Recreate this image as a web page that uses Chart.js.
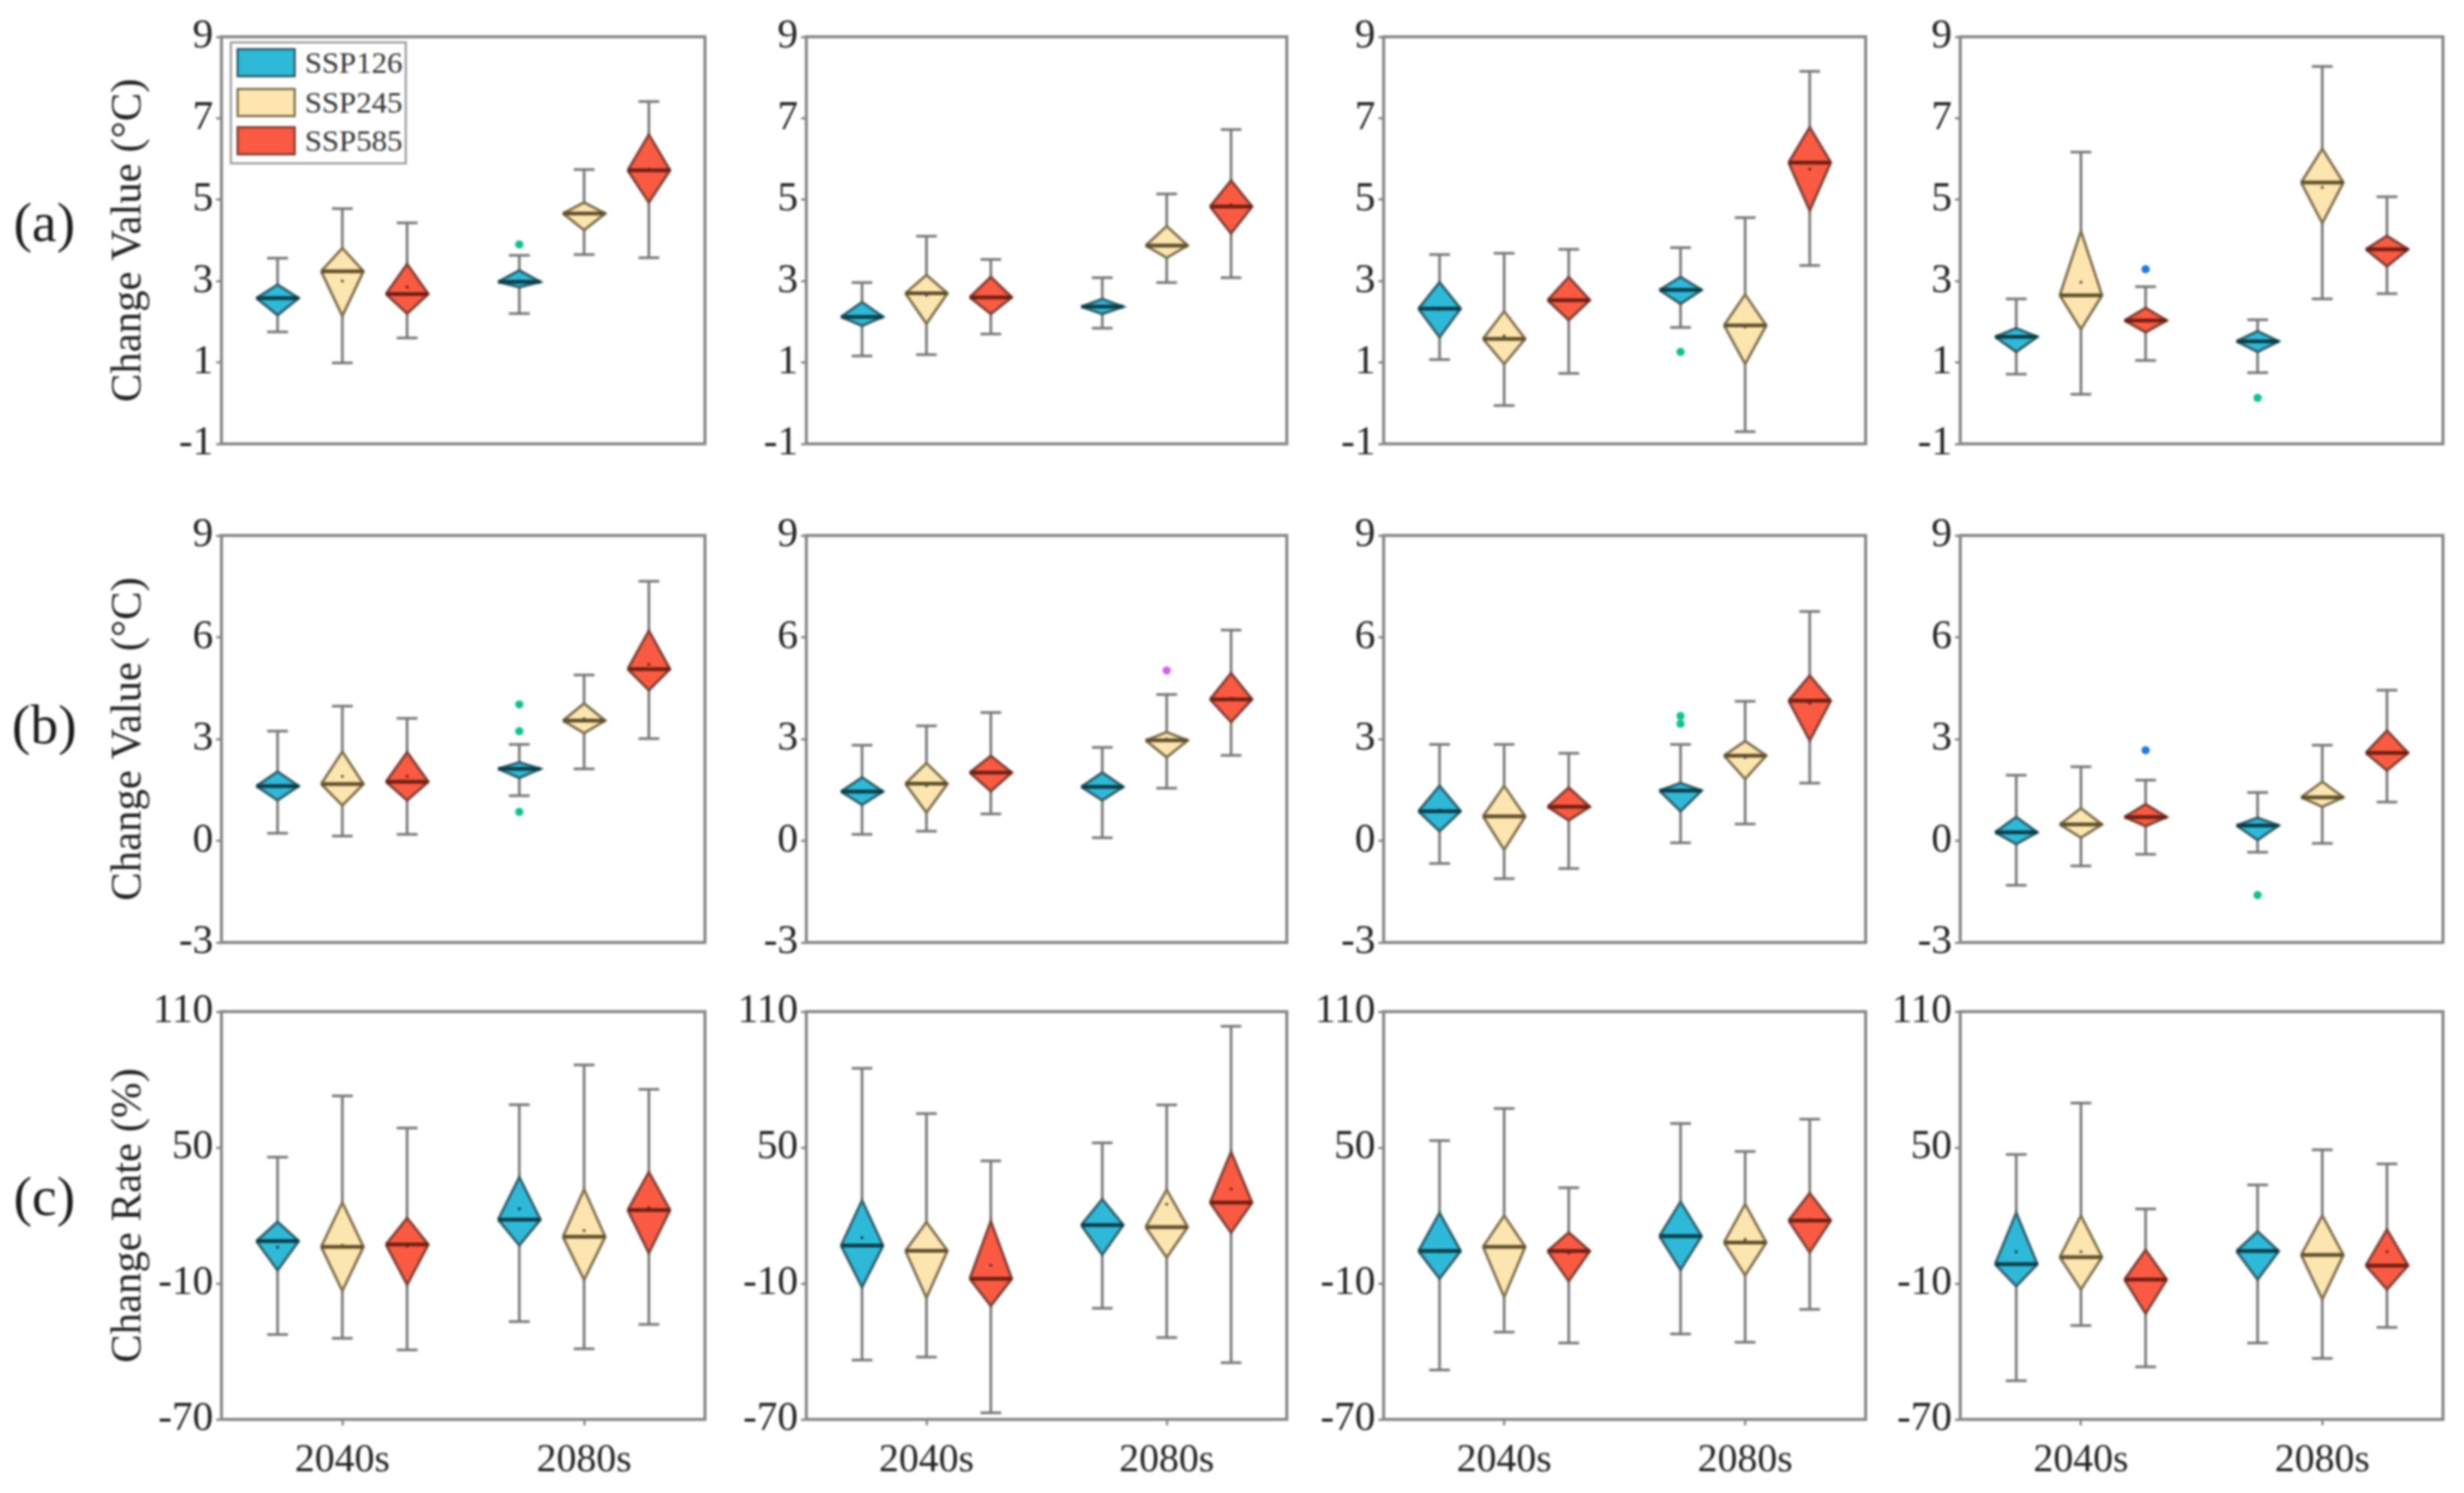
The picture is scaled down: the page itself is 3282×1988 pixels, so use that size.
<!DOCTYPE html>
<html><head><meta charset="utf-8">
<script src="https://cdn.jsdelivr.net/npm/chart.js@4/dist/chart.umd.min.js"></script>
<style>
html,body{margin:0;padding:0;background:#fff;width:3282px;height:1988px;overflow:hidden}
#page{position:absolute;left:0;top:0;width:3282px;height:1988px;filter:blur(1.4px);font-family:"Liberation Serif",serif;color:#222}
canvas{position:absolute}
.tag{position:absolute;font-size:74px;line-height:74px;transform:translate(-50%,-50%);color:#1a1a1a}
#legend{position:absolute;left:306px;top:55px;width:236px;height:164px;box-sizing:border-box;border:3px solid #a0a0a0;background:#fff;z-index:5}
#legend .sw{position:absolute;left:6px;width:79px;height:39px;box-sizing:border-box;border:3px solid}
#legend .tx{position:absolute;left:97px;font-size:41px;line-height:41px;color:#333}
</style></head><body><div id="page"></div>
<script>
const categories=['2040s','2080s'];
const seriesNames=['SSP126','SSP245','SSP585'];
const yTicksA=[-1,1,3,5,7,9], yTicksB=[-3,0,3,6,9], yTicksC=[-70,-10,50,110];
const panelTags=['(a)','(b)','(c)'];
const yTitles=['Change Value (°C)','Change Value (°C)','Change Rate (%)'];

const lowA1=[1.75,0.99,1.6,2.2,3.65,3.57], q1A1=[2.16,2.14,2.2,2.85,4.25,4.93], medA1=[2.58,3.24,2.68,2.98,4.66,5.72], q3A1=[2.91,3.81,3.42,3.26,4.93,6.6], highA1=[3.56,4.78,4.43,3.63,5.74,7.41], meanA1=[2.6,3.0,2.85,3.0,4.65,5.75];
const lowA2=[1.16,1.19,1.7,1.84,2.96,3.08], q1A2=[1.9,1.95,2.19,2.19,3.57,4.17], medA2=[2.12,2.7,2.6,2.37,3.87,4.83], q3A2=[2.48,3.15,3.1,2.56,4.35,5.47], highA2=[2.96,4.1,3.53,3.08,5.14,6.72], meanA2=[2.12,2.65,2.6,2.37,3.87,4.87];
const lowA3=[1.07,-0.06,0.73,1.86,-0.7,3.38], q1A3=[1.62,0.96,2.04,2.44,0.96,4.73], medA3=[2.32,1.58,2.53,2.78,1.91,5.91], q3A3=[2.97,2.26,3.1,3.1,2.67,6.78], highA3=[3.65,3.68,3.78,3.82,4.56,8.15], meanA3=[2.3,1.65,2.53,2.78,1.87,5.75];
const lowA4=[0.71,0.22,1.05,0.75,2.56,2.69], q1A4=[1.26,1.81,1.74,1.26,4.42,3.36], medA4=[1.63,2.65,2.03,1.52,5.42,3.78], q3A4=[1.84,4.23,2.34,1.77,6.25,4.11], highA4=[2.56,6.17,2.86,2.05,8.27,5.07], meanA4=[1.63,2.97,2.03,1.52,5.3,3.78];
const lowB1=[0.22,0.14,0.19,1.33,2.12,3.01], q1B1=[1.19,1.04,1.19,1.85,3.17,4.44], medB1=[1.61,1.67,1.74,2.12,3.54,5.06], q3B1=[2.04,2.63,2.61,2.31,4.05,6.19], highB1=[3.23,3.97,3.61,2.84,4.89,7.65], meanB1=[1.61,1.9,1.9,2.12,3.6,5.2];
const lowB2=[0.19,0.28,0.79,0.09,1.55,2.52], q1B2=[1.06,0.83,1.46,1.19,2.46,3.5], medB2=[1.45,1.68,2.01,1.59,2.96,4.17], q3B2=[1.87,2.29,2.5,2.01,3.2,4.94], highB2=[2.82,3.39,3.78,2.75,4.31,6.21], meanB2=[1.45,1.62,2.0,1.59,3.0,4.2];
const lowB3=[-0.67,-1.12,-0.82,-0.06,0.49,1.7], q1B3=[0.28,-0.27,0.6,0.87,1.82,2.95], medB3=[0.87,0.72,1.0,1.48,2.51,4.13], q3B3=[1.62,1.62,1.57,1.7,2.94,4.87], highB3=[2.84,2.84,2.58,2.84,4.11,6.76], meanB3=[0.9,0.72,1.0,1.5,2.45,4.05];
const lowB4=[-1.31,-0.74,-0.4,-0.34,-0.08,1.14], q1B4=[-0.1,0.09,0.43,0.02,1.0,2.07], medB4=[0.25,0.48,0.7,0.45,1.28,2.59], q3B4=[0.7,0.96,1.08,0.68,1.74,3.25], highB4=[1.93,2.18,1.79,1.42,2.82,4.44], meanB4=[0.25,0.48,0.7,0.45,1.28,2.59];
const lowC1=[-32.5,-34.2,-39.3,-26.8,-38.8,-28.1], q1C1=[-4.2,-13.3,-10.6,6.8,-8.4,3.4], medC1=[8.7,6.2,7.2,18.2,10.6,22.4], q3C1=[17.2,25.8,18.9,36.9,31.6,39.2], highC1=[45.8,72.8,58.6,68.9,86.5,75.7], meanC1=[6,6.8,6.5,23,13.4,23.5];
const lowC2=[-43.8,-42.5,-67.1,-20.9,-33.9,-45], q1C2=[-11.7,-16.4,-19.9,2.6,1.4,12.4], medC2=[6.7,4.4,-7.9,15.8,14.9,25.7], q3C2=[26.7,17.1,17.5,27.2,31.4,48.1], highC2=[85,65,44.1,52.1,68.8,103.5], meanC2=[10.2,4.4,-2,15.8,25,31.7];
const lowC3=[-48.2,-31.5,-36.3,-32.3,-35.9,-21.4], q1C3=[-7.9,-16,-9,-4,-6.4,3.7], medC3=[4.3,6.2,4.3,10.9,8.1,17.8], q3C3=[21.2,20,12.5,26.1,25.1,29.9], highC3=[53.1,67.2,32.3,60.6,48.3,62.5], meanC3=[4,5.9,3.5,10.9,9.5,18.2];
const lowC4=[-52.9,-28.6,-46.8,-36.3,-43.1,-29.4], q1C4=[-11.2,-12.7,-23.3,-8.3,-17,-12.7], medC4=[-1.5,1.6,-8.3,4.3,2.6,-2.1], q3C4=[21.2,20,4.8,13,20,13.8], highC4=[46.9,69.6,22.9,33.5,49,42.8], meanC4=[4,4,-8.3,4.3,2.6,4];

/* outliers: [box index, value] */
const outA1=[[3,3.9]], outA2=[], outA3=[[3,1.26]], outA4=[[2,3.29],[3,0.13]];
const outB1=[[3,4.02],[3,3.23],[3,0.85]], outB2=[[4,5.02]], outB3=[[3,3.68],[3,3.45]], outB4=[[2,2.67],[3,-1.6]];

const colLefts=[295,1074,1843,2611], colRights=[939,1714,2485,3254];
const rowTops=[49,713,1347], rowBottoms=[591,1255,1890];
const fills=['#2fb9d8','#fde5b0','#fb5a42'];
const edges=['#2f5f6c','#7f6f4e','#7f3f35'];
const medians=['#0a3c48','#5e4e2a','#6e1e14'];
const outlierColors=['#10c090','#10c090','#1a78e6','#10c090','#d060f0','#10c090'];
const FRAME='#858585', WHISK='#777777';
const GROUP_OFFSET=0.268, HALF_W=0.0875, CAP_W=0.043;
const ML=295, MT=45, MR=20, MB=98;

function boxX(i){return (i<3?1:2)+((i%3)-1)*GROUP_OFFSET;}

function boxDatasets(low,q1,med,q3,high,mean,out){
  const ds=[];
  for(let i=0;i<6;i++){
    const x=boxX(i), s=i%3;
    ds.push({label:seriesNames[s]+' whisker',order:3,showLine:true,pointRadius:0,borderColor:WHISK,borderWidth:3.5,spanGaps:false,
      data:[{x:x-CAP_W,y:high[i]},{x:x+CAP_W,y:high[i]},{x:x,y:null},{x:x,y:high[i]},{x:x,y:q3[i]},{x:x,y:null},{x:x,y:q1[i]},{x:x,y:low[i]},{x:x,y:null},{x:x-CAP_W,y:low[i]},{x:x+CAP_W,y:low[i]}]});
    ds.push({label:seriesNames[s],order:2,showLine:true,pointRadius:0,borderColor:edges[s],borderWidth:3.5,backgroundColor:fills[s],fill:'shape',tension:0,
      data:[{x:x-HALF_W,y:med[i]},{x:x,y:q3[i]},{x:x+HALF_W,y:med[i]},{x:x,y:q1[i]},{x:x-HALF_W,y:med[i]}]});
    ds.push({label:seriesNames[s]+' median',order:1,showLine:true,pointRadius:0,borderColor:medians[s],borderWidth:5,
      data:[{x:x-HALF_W,y:med[i]},{x:x+HALF_W,y:med[i]}]});
    ds.push({label:seriesNames[s]+' mean',order:0,showLine:false,pointRadius:2,pointBackgroundColor:medians[s],pointBorderWidth:0,
      data:[{x:x,y:mean[i]}]});
  }
  out.forEach(o=>ds.push({label:'outlier',order:0,showLine:false,pointRadius:5.5,pointBackgroundColor:outlierColors[o[0]],pointBorderWidth:0,
      data:[{x:boxX(o[0]),y:o[1]}]}));
  return ds;
}

const framePlugin={id:'frame',afterDatasetsDraw(c){const a=c.chartArea,x=c.ctx;x.save();x.strokeStyle=FRAME;x.lineWidth=4;
  x.beginPath();x.moveTo(a.left,a.top);x.lineTo(a.right,a.top);x.lineTo(a.right,a.bottom);x.stroke();x.restore();}};

const page=document.getElementById('page');
function makePanel(r,c,ticks,sets){
  const L=colLefts[c]-ML,T=rowTops[r]-MT,W=colRights[c]-colLefts[c]+ML+MR,H=rowBottoms[r]-rowTops[r]+MT+MB;
  const cv=document.createElement('canvas');cv.width=W;cv.height=H;cv.style.left=L+'px';cv.style.top=T+'px';cv.style.width=W+'px';cv.style.height=H+'px';
  page.appendChild(cv);
  const last=r===2;
  new Chart(cv,{type:'scatter',plugins:[framePlugin],data:{datasets:sets},options:{
    responsive:false,animation:false,devicePixelRatio:1,maintainAspectRatio:false,
    layout:{padding:{left:0,top:MT,right:MR,bottom:0}},
    plugins:{legend:{display:false},tooltip:{enabled:false}},
    scales:{
      x:{type:'linear',min:0.5,max:2.5,afterBuildTicks:a=>{a.ticks=categories.map((_,i)=>({value:i+1}));},
        afterFit:s=>{s.height=MB;},
        border:{color:FRAME,width:4},
        grid:{display:last,drawOnChartArea:false,drawTicks:last,tickLength:8,color:FRAME,lineWidth:3},
        ticks:{display:last,autoSkip:false,maxRotation:0,minRotation:0,padding:15,color:'#222',font:{family:'"Liberation Serif"',size:53},callback:v=>categories[v-1]}},
      y:{type:'linear',min:ticks[0],max:ticks[ticks.length-1],afterBuildTicks:a=>{a.ticks=ticks.map(v=>({value:v}));},
        afterFit:s=>{s.width=ML;},
        border:{color:FRAME,width:4},
        grid:{drawOnChartArea:false,drawTicks:true,tickLength:7,color:FRAME,lineWidth:3},
        ticks:{autoSkip:false,padding:4,color:'#222',font:{family:'"Liberation Serif"',size:55},callback:v=>String(v)},
        title:{display:c===0,text:yTitles[r],color:'#222',font:{family:'"Liberation Serif"',size:57},padding:{top:138,bottom:0}}}
    }}});
}

const rows=[yTicksA,yTicksB,yTicksC];
const P=[
 [[lowA1,q1A1,medA1,q3A1,highA1,meanA1,outA1],[lowA2,q1A2,medA2,q3A2,highA2,meanA2,outA2],[lowA3,q1A3,medA3,q3A3,highA3,meanA3,outA3],[lowA4,q1A4,medA4,q3A4,highA4,meanA4,outA4]],
 [[lowB1,q1B1,medB1,q3B1,highB1,meanB1,outB1],[lowB2,q1B2,medB2,q3B2,highB2,meanB2,outB2],[lowB3,q1B3,medB3,q3B3,highB3,meanB3,outB3],[lowB4,q1B4,medB4,q3B4,highB4,meanB4,outB4]],
 [[lowC1,q1C1,medC1,q3C1,highC1,meanC1,[]],[lowC2,q1C2,medC2,q3C2,highC2,meanC2,[]],[lowC3,q1C3,medC3,q3C3,highC3,meanC3,[]],[lowC4,q1C4,medC4,q3C4,highC4,meanC4,[]]]
];
P.forEach((row,r)=>row.forEach((a,c)=>makePanel(r,c,rows[r],boxDatasets(...a))));

const tagY=[296,965,1593];
panelTags.forEach((t,i)=>{const d=document.createElement('div');d.className='tag';d.textContent=t;d.style.left='59px';d.style.top=tagY[i]+'px';page.appendChild(d);});

const lg=document.createElement('div');lg.id='legend';
seriesNames.forEach((n,i)=>{const y=[6,59,110][i];
  const s=document.createElement('div');s.className='sw';s.style.top=y+'px';s.style.background=fills[i];s.style.borderColor=edges[i];lg.appendChild(s);
  const t=document.createElement('div');t.className='tx';t.textContent=n;t.style.top=(y-1)+'px';lg.appendChild(t);});
page.appendChild(lg);
</script></body></html>
